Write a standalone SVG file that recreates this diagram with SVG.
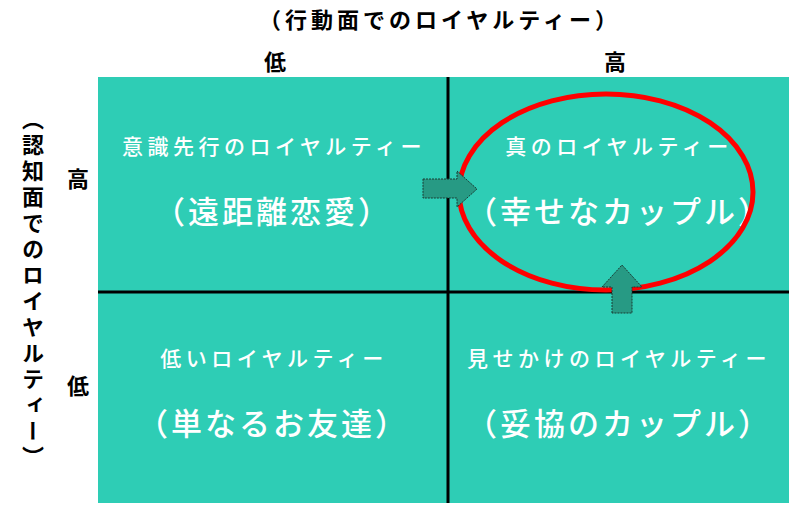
<svg xmlns="http://www.w3.org/2000/svg" width="800" height="509" viewBox="0 0 800 509">
<style>
text{font-family:"Noto Sans CJK JP","Noto Sans",sans-serif;text-anchor:middle;font-weight:bold}
.ax{font-size:22px;fill:#000;letter-spacing:4px}
.s{font-size:21px;fill:#fff;letter-spacing:4.5px;font-weight:500}
.b{font-size:31px;fill:#fff;letter-spacing:3px;font-weight:500}
.arr{fill:#279a84;stroke:#1a3a33;stroke-width:1;stroke-dasharray:2 1}
</style>
<rect width="800" height="509" fill="#fff"/>
<g id="grid">
<rect x="98" y="77" width="691" height="426" fill="#2ecdb5"/>
<line x1="448" y1="77" x2="448" y2="503" stroke="#000" stroke-width="3"/>
<line x1="98" y1="292" x2="789" y2="292" stroke="#000" stroke-width="3"/>
</g>
<g id="axes">
<text class="ax" x="440" y="28">（行動面でのロイヤルティー）</text>
<text class="ax" x="277" y="70">低</text>
<text class="ax" x="617" y="70">高</text>
<text class="ax" x="80" y="187">高</text>
<text class="ax" x="80" y="394">低</text>
<text class="ax" x="33" y="290" style="writing-mode:vertical-rl;text-anchor:middle">（認知面でのロイヤルティー）</text>
</g>
<g id="q1"><text class="s" x="274" y="154">意識先行のロイヤルティー</text><text class="b" x="273" y="223">（遠距離恋愛）</text></g>
<g id="q2"><text class="s" x="619" y="154">真のロイヤルティー</text><text class="b" x="619" y="223">（幸せなカップル）</text></g>
<g id="q3"><text class="s" x="274" y="366">低いロイヤルティー</text><text class="b" x="273" y="435">（単なるお友達）</text></g>
<g id="q4"><text class="s" x="619" y="366">見せかけのロイヤルティー</text><text class="b" x="619" y="435">（妥協のカップル）</text></g>
<g id="ellipse"><ellipse cx="606" cy="192" rx="147" ry="98" fill="none" stroke="#f00" stroke-width="5"/></g>
<g id="connectors">
<polygon class="arr" points="423,179 457,179 457,171 477,189 457,207 457,198 423,198"/>
<polygon class="arr" points="612,313 612,287 602,287 622,265 642,287 632,287 632,313"/>
</g>
</svg>
